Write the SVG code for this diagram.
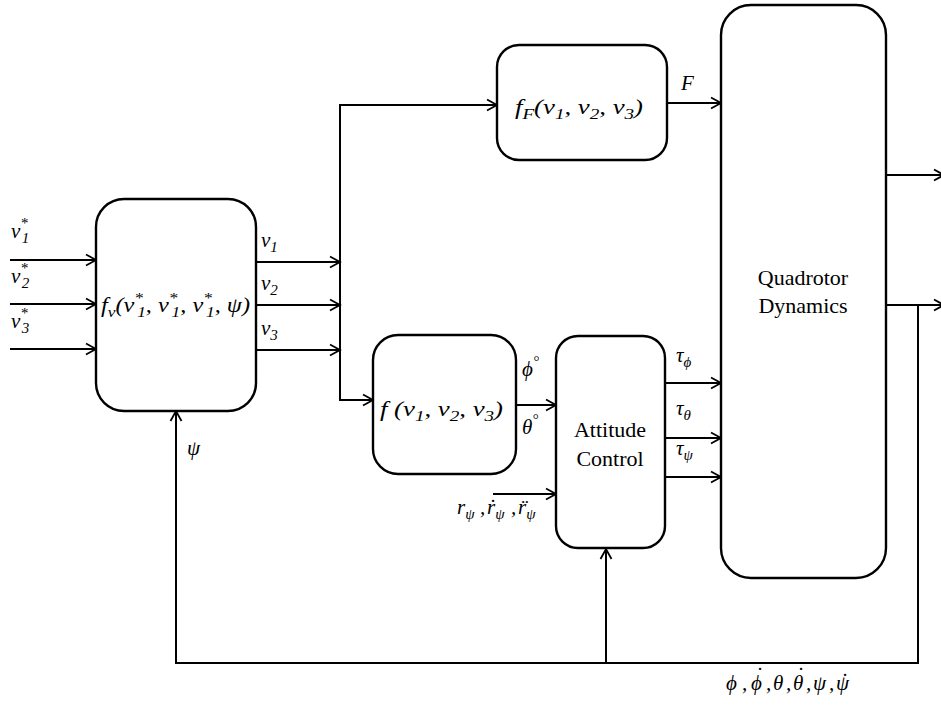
<svg xmlns="http://www.w3.org/2000/svg" width="941" height="706" viewBox="0 0 941 706">
  <defs>
    <marker id="arr" markerUnits="userSpaceOnUse" markerWidth="14" markerHeight="14" viewBox="-12 -7 14 14" refX="0" refY="0" orient="auto">
      <path d="M-10,-5.5 L0,0 L-10,5.5" fill="none" stroke="#000" stroke-width="1.8"/>
    </marker>
  </defs>
  <style>
    .box { fill: #fff; stroke: #000; stroke-width: 2.4; }
    .ln { fill: none; stroke: #000; stroke-width: 2; }
    .ar { fill: none; stroke: #000; stroke-width: 2; marker-end: url(#arr); }
    .m { font-style: italic; font-size: 21px; fill: #000; }
    .s { font-size: 15px; }
    .t { font-size: 22px; fill: #000; text-anchor: middle; }
    .d { text-anchor: middle; font-style: normal; }
  </style>

  <rect width="941" height="706" fill="#fff"/>

  <!-- connectors -->
  <g id="connectors">
    <!-- reference inputs -->
    <line class="ar" x1="10" y1="260" x2="96" y2="260"/>
    <line class="ar" x1="10" y1="304" x2="96" y2="304"/>
    <line class="ar" x1="10" y1="349" x2="96" y2="349"/>
    <!-- virtual control outputs into the bus -->
    <line class="ar" x1="256" y1="262" x2="340" y2="262"/>
    <line class="ar" x1="256" y1="305" x2="340" y2="305"/>
    <line class="ar" x1="256" y1="350" x2="340" y2="350"/>
    <!-- bus -->
    <line class="ln" x1="340" y1="104" x2="340" y2="401"/>
    <line class="ar" x1="339" y1="105" x2="497" y2="105"/>
    <line class="ar" x1="339" y1="400" x2="373" y2="400"/>
    <!-- thrust -->
    <line class="ar" x1="667" y1="103" x2="721" y2="103"/>
    <!-- desired angles -->
    <line class="ar" x1="516" y1="405" x2="556" y2="405"/>
    <!-- yaw reference -->
    <line class="ar" x1="493" y1="494" x2="556" y2="494"/>
    <!-- torques -->
    <line class="ar" x1="665" y1="383" x2="721" y2="383"/>
    <line class="ar" x1="665" y1="438" x2="721" y2="438"/>
    <line class="ar" x1="665" y1="477" x2="721" y2="477"/>
    <!-- plant outputs -->
    <line class="ar" x1="886" y1="175" x2="944" y2="175"/>
    <line class="ar" x1="886" y1="305" x2="944" y2="305"/>
    <!-- state feedback -->
    <polyline class="ln" points="918,305 918,663 176,663"/>
    <line class="ar" x1="176" y1="664" x2="176" y2="411"/>
    <line class="ar" x1="606" y1="664" x2="606" y2="549"/>
  </g>

  <g font-family="Liberation Serif, Times New Roman, DejaVu Serif, serif">
  <!-- virtual control law -->
  <g id="node-fv">
    <rect class="box" x="96" y="199" width="160" height="212" rx="28"/>
    <text class="m" x="101" y="312" textLength="149" lengthAdjust="spacingAndGlyphs">f<tspan class="s" dy="5">v</tspan><tspan dy="-5">(v</tspan><tspan class="s" dy="-9">*</tspan><tspan class="s" dx="-5" dy="14">1</tspan><tspan dy="-5">, v</tspan><tspan class="s" dy="-9">*</tspan><tspan class="s" dx="-5" dy="14">1</tspan><tspan dy="-5">, v</tspan><tspan class="s" dy="-9">*</tspan><tspan class="s" dx="-5" dy="14">1</tspan><tspan dy="-5">, ψ)</tspan></text>
  </g>

  <!-- thrust map -->
  <g id="node-fF">
    <rect class="box" x="497" y="45" width="170" height="115" rx="22"/>
    <text class="m" x="515" y="114" textLength="128" lengthAdjust="spacingAndGlyphs">f<tspan class="s" dy="5">F</tspan><tspan dy="-5">(v</tspan><tspan class="s" dy="5">1</tspan><tspan dy="-5">, v</tspan><tspan class="s" dy="5">2</tspan><tspan dy="-5">, v</tspan><tspan class="s" dy="5">3</tspan><tspan dy="-5">)</tspan></text>
  </g>

  <!-- desired attitude map -->
  <g id="node-f">
    <rect class="box" x="373" y="335" width="143" height="139" rx="25"/>
    <text class="m" x="380" y="416" textLength="123" lengthAdjust="spacingAndGlyphs">f (v<tspan class="s" dy="5">1</tspan><tspan dy="-5">, v</tspan><tspan class="s" dy="5">2</tspan><tspan dy="-5">, v</tspan><tspan class="s" dy="5">3</tspan><tspan dy="-5">)</tspan></text>
  </g>

  <!-- attitude controller -->
  <g id="node-attitude">
    <rect class="box" x="556" y="336" width="109" height="212" rx="22"/>
    <text class="t" x="610" y="437">Attitude</text>
    <text class="t" x="610" y="466">Control</text>
  </g>

  <!-- plant -->
  <g id="node-quadrotor">
    <rect class="box" x="721" y="5" width="165" height="573" rx="30"/>
    <text class="t" x="803" y="285">Quadrotor</text>
    <text class="t" x="803" y="313">Dynamics</text>
  </g>

  <!-- signal labels -->
  <g id="labels">
    <text class="m" x="11" y="238">v<tspan class="s" dy="-10">*</tspan><tspan class="s" dx="-6" dy="15">1</tspan></text>
    <text class="m" x="11" y="283">v<tspan class="s" dy="-10">*</tspan><tspan class="s" dx="-6" dy="15">2</tspan></text>
    <text class="m" x="11" y="328">v<tspan class="s" dy="-10">*</tspan><tspan class="s" dx="-6" dy="15">3</tspan></text>
    <text class="m" x="261" y="247">v<tspan class="s" dy="5">1</tspan></text>
    <text class="m" x="261" y="290">v<tspan class="s" dy="5">2</tspan></text>
    <text class="m" x="261" y="335">v<tspan class="s" dy="5">3</tspan></text>
    <text class="m" x="681" y="90">F</text>
    <text class="m" x="522" y="376">ϕ<tspan class="s" dy="-10">°</tspan></text>
    <text class="m" x="522" y="434">θ<tspan class="s" dy="-10">°</tspan></text>
    <text class="m" x="676" y="362">τ<tspan class="s" dy="5">ϕ</tspan></text>
    <text class="m" x="676" y="415">τ<tspan class="s" dy="5">θ</tspan></text>
    <text class="m" x="676" y="455">τ<tspan class="s" dy="5">ψ</tspan></text>
    <!-- yaw reference and its derivatives -->
    <text class="m" y="514"><tspan x="457">r</tspan><tspan class="s" dy="5">ψ</tspan><tspan x="480" y="514">,</tspan><tspan x="487">r</tspan><tspan class="s" dy="5">ψ</tspan><tspan x="511" y="514">,</tspan><tspan x="518">r</tspan><tspan class="s" dy="5">ψ</tspan><tspan class="d" x="493" y="514">˙</tspan><tspan class="d" x="525" y="514">¨</tspan></text>
    <text class="m" x="187" y="455">ψ</text>
    <!-- fed-back attitude states -->
    <text class="m" y="690" font-size="20"><tspan x="726">ϕ</tspan><tspan x="742">,</tspan><tspan x="751">ϕ</tspan><tspan x="766">,</tspan><tspan x="773">θ</tspan><tspan x="786">,</tspan><tspan x="793">θ</tspan><tspan x="806">,</tspan><tspan x="813">ψ</tspan><tspan x="829">,</tspan><tspan x="836">ψ</tspan><tspan class="d" x="760" y="682">˙</tspan><tspan class="d" x="801" y="682">˙</tspan><tspan class="d" x="845" y="688">˙</tspan></text>
  </g>
  </g>
</svg>
